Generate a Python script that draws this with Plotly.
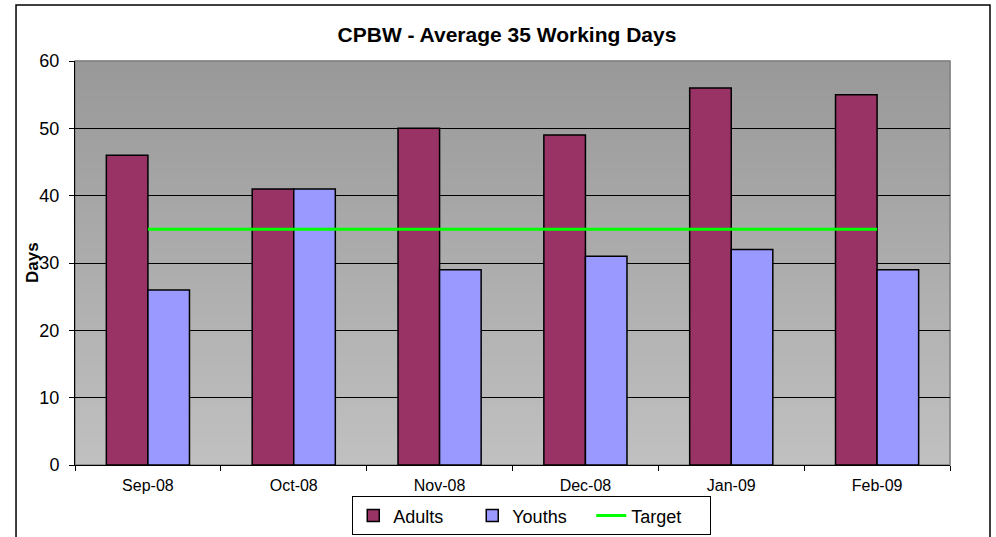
import plotly.graph_objects as go

months = ["Sep-08", "Oct-08", "Nov-08", "Dec-08", "Jan-09", "Feb-09"]
adults = [46, 41, 50, 49, 56, 55]
youths = [26, 41, 29, 31, 32, 29]
target = [35, 35, 35, 35, 35, 35]

FONT = "Liberation Sans, Arial, sans-serif"

fig = go.Figure()
fig.add_trace(go.Bar(x=months, y=adults, name="Adults",
                     marker=dict(color="#993366", line=dict(color="black", width=1.5))))
fig.add_trace(go.Bar(x=months, y=youths, name="Youths",
                     marker=dict(color="#9999FF", line=dict(color="black", width=1.5))))
fig.add_trace(go.Scatter(x=months, y=target, name="Target", mode="lines",
                         line=dict(color="#00FF00", width=3)))

# gradient plot background (top #999999 -> bottom #c0c0c0), drawn as stacked bands
shapes = []
n = 40
top = (153, 153, 153)
bot = (192, 192, 192)
for i in range(n):
    f = (i + 0.5) / n  # 0 at bottom
    c = tuple(round(bot[k] + (top[k] - bot[k]) * f) for k in range(3))
    col = "rgb(%d,%d,%d)" % c
    shapes.append(dict(type="rect", xref="paper", yref="paper",
                       x0=0, x1=1, y0=i / n, y1=(i + 1) / n,
                       fillcolor=col, line=dict(color=col, width=1), layer="below"))
# plot area border (gray)
shapes.append(dict(type="rect", xref="paper", yref="paper", x0=0, x1=1, y0=0, y1=1,
                   line=dict(color="#808080", width=1.5), layer="below"))
# outer chart border
shapes.append(dict(type="rect", xref="paper", yref="paper",
                   x0=-0.0674, x1=1.0457, y0=-0.2, y1=1.1386,
                   line=dict(color="black", width=1.5), layer="above"))

fig.update_layout(
    width=996, height=537,
    margin=dict(l=75, r=46, t=61, b=72, autoexpand=False),
    paper_bgcolor="white",
    plot_bgcolor="rgba(0,0,0,0)",
    font=dict(family=FONT, color="black"),
    title=dict(text="<b>CPBW - Average 35 Working Days</b>",
               font=dict(family=FONT, size=21, color="black"),
               x=0.509, xanchor="center", xref="container",
               y=1 - 35 / 537, yanchor="middle", yref="container"),
    barmode="group",
    bargap=0.43,
    bargroupgap=0,
    shapes=shapes,
    showlegend=True,
    legend=dict(orientation="h", x=0.522, xanchor="center", y=-0.126, yanchor="middle",
                bordercolor="black", borderwidth=1, bgcolor="white",
                font=dict(family=FONT, size=18, color="black"),
                traceorder="normal", itemwidth=30, entrywidth=74),
    xaxis=dict(showline=True, linecolor="black", linewidth=1,
               ticks="outside", ticklen=5, tickcolor="black", tickson="boundaries",
               showgrid=False, tickfont=dict(family=FONT, size=16, color="black"),
               ticklabelstandoff=6),
    yaxis=dict(range=[0, 60], dtick=10, showline=True, linecolor="black", linewidth=1,
               ticks="outside", ticklen=5, tickcolor="black",
               showgrid=True, gridcolor="black", gridwidth=1, zeroline=False,
               tickfont=dict(family=FONT, size=18, color="black"),
               ticklabelstandoff=6),
    annotations=[dict(text="<b>Days</b>", xref="paper", yref="paper",
                      x=(32 - 75) / 875, y=0.5, xanchor="center", yanchor="middle",
                      textangle=-90, showarrow=False,
                      font=dict(family=FONT, size=17, color="black"))],
)

fig.write_html("out.html", config={"displayModeBar": False},
               post_script="document.body.style.margin='0px';")
